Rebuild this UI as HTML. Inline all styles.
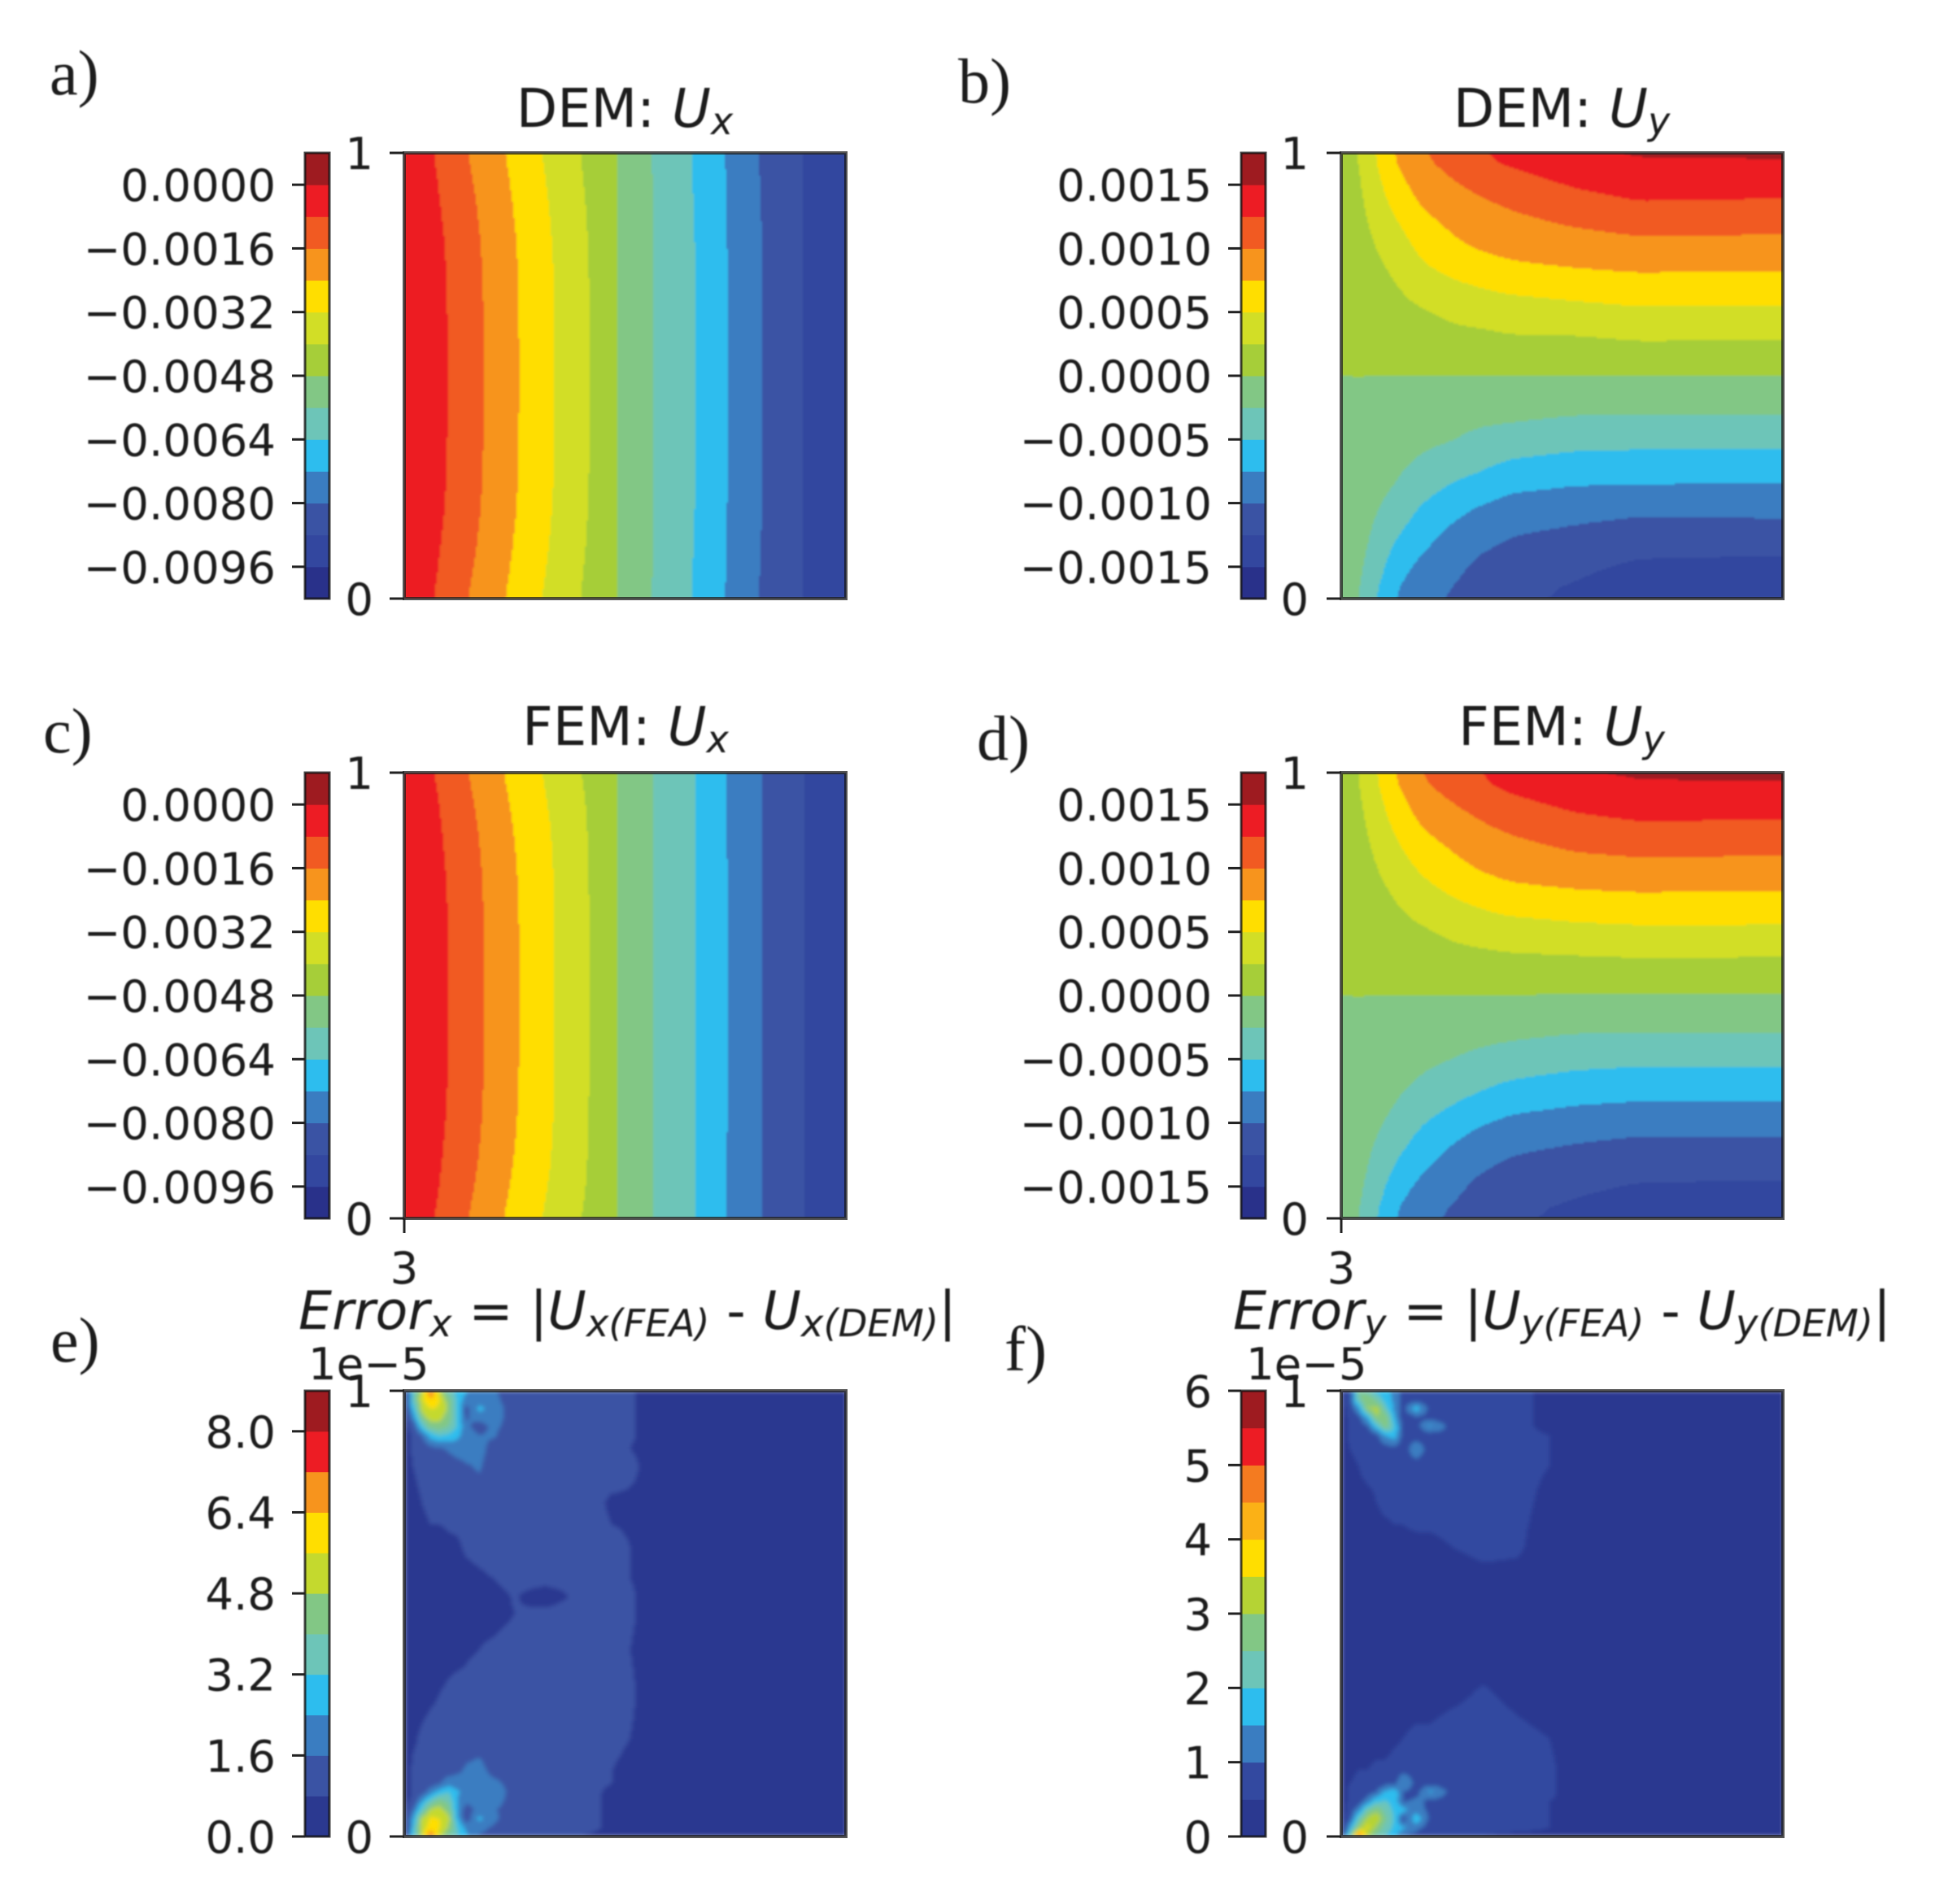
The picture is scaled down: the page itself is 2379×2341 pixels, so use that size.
<!DOCTYPE html>
<html lang="en">
<head>
<meta charset="utf-8">
<title>DEM vs FEM displacement fields</title>
<style>
html,body{margin:0;padding:0;background:#fff;}
svg{display:block;}
.tk{font-family:"DejaVu Sans",sans-serif;font-size:54.5px;fill:#1c1c1c;}
.ti{font-family:"DejaVu Sans",sans-serif;font-size:65.5px;fill:#1c1c1c;}
.te{font-family:"DejaVu Sans",sans-serif;font-size:65px;fill:#1c1c1c;}
.pl{font-family:"Liberation Serif",serif;font-size:78px;fill:#1c1c1c;}
.it{font-style:italic;}
.sb{font-style:italic;font-size:46px;}
.te .sb{font-size:46.5px;}
</style>
</head>
<body>
<svg id="figure" xmlns="http://www.w3.org/2000/svg" width="2379" height="2341" viewBox="0 0 2379 2341">
<defs>
<filter id="soft" x="-2%" y="-2%" width="104%" height="104%"><feGaussianBlur stdDeviation="1.4"/></filter>
<filter id="softErr" x="-2%" y="-2%" width="104%" height="104%"><feGaussianBlur stdDeviation="2.6"/></filter>
<filter id="softText" x="-5%" y="-20%" width="110%" height="140%"><feGaussianBlur stdDeviation="0.7"/></filter>
</defs>
<rect width="2379" height="2341" fill="#fff"/>
<g id="panels"></g>
<g filter="url(#softText)">
<text class="pl" x="61" y="116">a)</text>
<text class="pl" x="1178" y="126">b)</text>
<text class="pl" x="53" y="925">c)</text>
<text class="pl" x="1201" y="934">d)</text>
<text class="pl" x="62" y="1674">e)</text>
<text class="pl" x="1235" y="1685">f)</text>

<text class="ti" x="768" y="156" text-anchor="middle">DEM: <tspan class="it">U</tspan><tspan class="sb" dy="9">x</tspan></text>
<text class="ti" x="1920" y="156" text-anchor="middle">DEM: <tspan class="it">U</tspan><tspan class="sb" dy="9">y</tspan></text>
<text class="ti" x="769" y="916" text-anchor="middle">FEM: <tspan class="it">U</tspan><tspan class="sb" dy="9">x</tspan></text>
<text class="ti" x="1920" y="916" text-anchor="middle">FEM: <tspan class="it">U</tspan><tspan class="sb" dy="9">y</tspan></text>

<text class="te" x="367" y="1634"><tspan class="it">Error</tspan><tspan class="sb" dy="9">x</tspan><tspan dy="-9"> = |</tspan><tspan class="it">U</tspan><tspan class="sb" dy="9">x(FEA)</tspan><tspan dy="-9"> - </tspan><tspan class="it">U</tspan><tspan class="sb" dy="9">x(DEM)</tspan><tspan dy="-9">|</tspan></text>
<text class="te" x="1516" y="1634"><tspan class="it">Error</tspan><tspan class="sb" dy="9">y</tspan><tspan dy="-9"> = |</tspan><tspan class="it">U</tspan><tspan class="sb" dy="9">y(FEA)</tspan><tspan dy="-9"> - </tspan><tspan class="it">U</tspan><tspan class="sb" dy="9">y(DEM)</tspan><tspan dy="-9">|</tspan></text>

<text class="tk" x="379" y="1696">1e−5</text>
<text class="tk" x="1532" y="1696">1e−5</text>
<text class="tk" x="497" y="1578" text-anchor="middle">3</text>
<text class="tk" x="1649" y="1578" text-anchor="middle">3</text>
</g>
</svg>
<script>
/* ---------- colour bands, low to high ---------- */
const palette14 = ['#29318a','#33479f','#3a53a4','#3a7dc1','#2dbdee','#6dc5b8','#82c785','#a6ce39','#d2de26','#ffde00','#f7941d','#f15a22','#ed1c24','#9e1b20'];
const paletteErrX = ['#2b3990','#3a53a4','#3a7dc1','#2dbdee','#6dc5b8','#82c785','#c4d92e','#ffde00','#f7941d','#ed1c24','#9e1b20'];
const paletteErrY = ['#2b3990','#3349a0','#3a7dc1','#2dbdee','#6dc5b8','#82c785','#b5d334','#ffde00','#fbb116','#f47b20','#ed1c24','#9e1b20'];

/* ---------- contour levels ---------- */
const levelsUx = [-104,-96,-88,-80,-72,-64,-56,-48,-40,-32,-24,-16,-8,0,8];      /* 1e-4 */
const levelsUy = [-17.5,-15,-12.5,-10,-7.5,-5,-2.5,0,2.5,5,7.5,10,12.5,15,17.5]; /* 1e-4 */
const levelsErrX = [0,0.8,1.6,2.4,3.2,4,4.8,5.6,6.4,7.2,8,8.8];                  /* 1e-5 */
const levelsErrY = [0,0.5,1,1.5,2,2.5,3,3.5,4,4.5,5,5.5,6];                      /* 1e-5 */

/* ---------- colour-bar ticks ---------- */
const ticksUx = [0,-16,-32,-48,-64,-80,-96];
const tickLabelsUx = ['0.0000','−0.0016','−0.0032','−0.0048','−0.0064','−0.0080','−0.0096'];
const ticksUy = [15,10,5,0,-5,-10,-15];
const tickLabelsUy = ['0.0015','0.0010','0.0005','0.0000','−0.0005','−0.0010','−0.0015'];
const ticksErrX = [8,6.4,4.8,3.2,1.6,0];
const tickLabelsErrX = ['8.0','6.4','4.8','3.2','1.6','0.0'];
const ticksErrY = [6,5,4,3,2,1,0];
const tickLabelsErrY = ['6','5','4','3','2','1','0'];

/* ---------- sample coordinates (fraction of plot, y measured from the top) ---------- */
const uxCols = [0,.05,.1,.18,.26,.34,.42,.48,.56,.66,.73,.81,.9,1];
const uxRows = [0,.06,.12,.2,.3,.5,.7,.8,.88,.94,1];
const uyCols = [0,.04,.08,.12,.18,.25,.31,.38,.53,.67,1];
const uyRows = [0,.05,.1,.15,.2,.25,.3,.35,.4,.45,.5,.55,.6,.65,.7,.75,.8,.85,.9,.95,1];
const errCols = [0,.02,.04,.06,.08,.10,.12,.14,.17,.2,.25,.32,.4,.47,.55,.65,.8,1];
const errRows = [0,.02,.04,.06,.08,.10,.13,.17,.25,.35,.42,.46,.5,.58,.68,.78,.85,.88,.9,.92,.94,.96,.98,1];

/* ---------- field values ---------- */
const demUx = [
[0,-6,-11.6,-19.6,-27,-34.8,-42,-48,-56,-65,-72.5,-81,-88,-94],
[0,-5.4,-10.5,-18.5,-26.1,-34,-41.4,-48,-56,-64.7,-72.4,-80.7,-88,-94],
[0,-4.9,-9.6,-17.6,-25.4,-33.3,-40.9,-48,-56,-64.5,-72.2,-80.5,-88,-94],
[0,-4.4,-8.7,-16.7,-24.6,-32.6,-40.4,-48,-56,-64.2,-72.1,-80.2,-88,-94],
[0,-4.1,-8.2,-16.2,-24.2,-32.1,-40.1,-48,-56,-64,-72,-80,-88,-94],
[0,-4,-8,-16,-24,-32,-40,-48,-56,-64,-72,-80,-88,-94],
[0,-4.1,-8.2,-16.2,-24.2,-32.1,-40.1,-48,-56,-64,-72,-80,-88,-94],
[0,-4.4,-8.7,-16.7,-24.6,-32.6,-40.4,-48,-56,-64.2,-72.1,-80.2,-88,-94],
[0,-4.9,-9.6,-17.6,-25.4,-33.3,-40.9,-48,-56,-64.5,-72.2,-80.5,-88,-94],
[0,-5.4,-10.5,-18.5,-26.1,-34,-41.4,-48,-56,-64.7,-72.4,-80.7,-88,-94],
[0,-6,-11.6,-19.6,-27,-34.8,-42,-48,-56,-65,-72.5,-81,-88,-94]];
const femUx = [
[0,-6,-11.5,-19.5,-27.4,-34.6,-41.8,-48,-56,-64,-72.6,-80,-88,-93],
[0,-5.2,-10.2,-18.4,-26.4,-33.6,-41,-48,-56,-64,-72.4,-80,-88,-93],
[0,-4.7,-9.4,-17.4,-25.4,-32.9,-40.6,-48,-56,-64,-72.2,-80,-88,-93],
[0,-4.3,-8.6,-16.6,-24.6,-32.4,-40.3,-48,-56,-64,-72.1,-80,-88,-93],
[0,-4,-8.1,-16.1,-24.1,-32.1,-40.1,-48,-56,-64,-72,-80,-88,-93],
[0,-4,-8,-16,-24,-32,-40,-48,-56,-64,-72,-80,-88,-93],
[0,-4,-8.1,-16.1,-24.1,-32.1,-40.1,-48,-56,-64,-72,-80,-88,-93],
[0,-4.3,-8.6,-16.6,-24.6,-32.4,-40.3,-48,-56,-64,-72.1,-80,-88,-93],
[0,-4.7,-9.4,-17.4,-25.4,-32.9,-40.6,-48,-56,-64,-72.2,-80,-88,-93],
[0,-5.2,-10.2,-18.4,-26.4,-33.6,-41,-48,-56,-64,-72.4,-80,-88,-93],
[0,-6,-11.5,-19.5,-27.4,-34.6,-41.8,-48,-56,-64,-72.6,-80,-88,-93]];
const demUy = [
[.8,2.6,5.3,7.8,10,11,12.5,13.6,15,15.5,15.6],
[.7,2.3,4.6,6.8,9,10.2,11.1,11.9,13.4,14,14],
[.6,2,4,5.8,8,9.1,9.9,10.6,11.9,12.8,12.6],
[.5,1.7,3.4,4.8,6.9,8.1,8.9,9.5,10.5,11.1,11],
[.4,1.4,2.7,3.8,5.8,7.2,8,8.4,9.1,9.6,9.5],
[.4,1.2,2.2,2.9,4.8,5.9,6.7,7.3,7.8,8.1,8],
[.3,.9,1.8,2.3,3.5,4.5,5,5.6,6.1,6.5,6.4],
[.2,.7,1.4,1.8,2.4,3,3.6,3.9,4.4,4.8,4.7],
[.2,.5,1,1.2,1.7,2.2,2.3,2.7,2.8,3.2,3.1],
[.1,.3,.5,.6,.8,1,1.1,1.3,1.3,1.6,1.6],
[0,0,0,0,0,0,0,0,0,0,0],
[-.1,-.2,-.4,-.5,-.7,-.9,-1.1,-1.3,-1.4,-1.4,-1.4],
[-.2,-.4,-.8,-1,-1.4,-1.7,-2.1,-2.3,-2.8,-2.9,-2.9],
[-.2,-.6,-1.2,-1.5,-2.1,-2.5,-3.3,-3.8,-4.4,-4.5,-4.6],
[-.3,-.8,-1.6,-2,-2.9,-3.9,-4.5,-5.4,-6,-6.1,-6.2],
[-.4,-1,-2,-2.5,-4,-5.3,-6,-7.1,-7.6,-7.7,-7.8],
[-.4,-1.2,-2.4,-3.3,-5.3,-6.7,-7.8,-8.5,-9.1,-9.5,-9.4],
[-.5,-1.5,-3,-4.5,-6.4,-8,-8.9,-9.8,-10.4,-11,-10.9],
[-.6,-1.8,-3.6,-5.6,-7.5,-8.8,-10,-10.6,-11.4,-12.2,-12.4],
[-.7,-2.1,-4.3,-6.6,-8.6,-9.6,-10.8,-11.3,-12.3,-13.5,-13.8],
[-.8,-2.5,-5.2,-7.6,-9.8,-10.3,-11.5,-12,-13.2,-14.5,-15]];
const femUy = [
[.8,2.5,5,7.7,10.2,11.6,12.6,14,15.2,15.5,15.7],
[.7,2.2,4.4,6.6,9.1,10.4,11.4,12.4,13.7,14.2,14.1],
[.6,1.9,3.8,5.7,8,9.2,10.1,11,12.2,12.8,12.7],
[.5,1.6,3.2,4.8,6.9,8.1,9,9.7,10.8,11.2,11.1],
[.4,1.3,2.6,3.8,5.7,7,8,8.6,9.4,9.7,9.6],
[.4,1.1,2.1,2.9,4.5,5.8,6.7,7.4,7.9,8.1,8],
[.3,.9,1.7,2.3,3.3,4.4,5.1,5.8,6.2,6.5,6.4],
[.2,.7,1.3,1.8,2.3,3,3.6,4,4.5,4.7,4.7],
[.2,.5,.9,1.2,1.6,2.1,2.3,2.6,2.8,3,2.9],
[.1,.3,.5,.6,.7,1,1.1,1.2,1.3,1.4,1.4],
[0,0,0,0,0,0,0,0,-.1,-.1,-.1],
[-.1,-.2,-.4,-.5,-.7,-.9,-1.1,-1.3,-1.5,-1.5,-1.5],
[-.2,-.4,-.8,-1,-1.4,-1.8,-2.1,-2.4,-2.9,-3,-3],
[-.2,-.6,-1.1,-1.5,-2.1,-2.6,-3.2,-3.8,-4.4,-4.7,-4.7],
[-.3,-.8,-1.5,-2,-2.8,-3.8,-4.5,-5.3,-6.1,-6.3,-6.3],
[-.4,-1,-1.9,-2.5,-3.9,-5.1,-6,-7,-7.6,-7.9,-8],
[-.4,-1.2,-2.3,-3.2,-5.2,-6.6,-7.7,-8.4,-9.1,-9.5,-9.5],
[-.5,-1.5,-2.9,-4.4,-6.3,-7.9,-8.9,-9.8,-10.5,-11,-11],
[-.6,-1.8,-3.5,-5.5,-7.5,-8.9,-10,-10.7,-11.5,-12,-12.1],
[-.7,-2.1,-4.2,-6.6,-8.6,-9.7,-10.8,-11.4,-12.4,-13.2,-13.5],
[-.8,-2.5,-5.1,-7.6,-9.8,-10.4,-11.5,-12.2,-13.4,-14.4,-15]];
const errX = [
[.3,3.2,5.2,7.4,5,3.5,3,2.5,1.9,1.7,1.2,1.1,1,1,.7,.5,.5,.4],
[.4,3.4,5.4,6.4,5.6,4.4,3,2,1.9,1.8,1.2,1.1,1.1,1,.7,.6,.5,.4],
[.5,2.8,5.1,5.6,5.5,4.6,3,1.3,2.7,1.9,1.3,1.1,1.1,1,.7,.6,.5,.4],
[.5,2,4.4,5.3,5.1,4.4,3,1.5,1.9,1.9,1.3,1.1,1.1,1,.7,.6,.5,.4],
[.5,1.2,3,4.4,4.4,4,3.1,1.8,1.2,1.8,1.2,1.1,1.1,1,.7,.6,.5,.4],
[.5,.9,1.6,2.8,3.3,3,2.6,2,1.6,1.7,1.1,1.1,1.1,1,.7,.6,.5,.4],
[.5,.9,1.1,1.3,1.5,1.7,1.9,2,1.9,1.3,1.1,1.1,1.1,.9,.7,.6,.5,.4],
[.5,.8,1,1,1.1,1.2,1.3,1.5,1.7,1.1,1.1,1.1,1.1,1.1,.7,.6,.5,.4],
[.4,.6,.8,1,1,1,1.1,1.1,1.1,1.1,1.1,1.1,1.1,.7,.75,.5,.5,.4],
[.4,.5,.5,.6,.6,.7,.7,.9,1,1.1,1.1,1.1,1,.9,.7,.6,.5,.4],
[.4,.5,.5,.5,.5,.6,.6,.6,.7,.8,1,1.1,1,.9,.7,.6,.5,.4],
[.4,.5,.5,.5,.5,.5,.5,.5,.6,.6,.85,.45,1,1,.7,.6,.5,.4],
[.4,.5,.5,.5,.5,.5,.5,.5,.6,.6,.8,1,1,1,.7,.6,.5,.4],
[.4,.5,.5,.5,.5,.6,.6,.7,.8,.9,1,1.1,1.1,.9,.7,.6,.5,.4],
[.4,.5,.6,.7,.8,.9,1,1,1.1,1.1,1.1,1.1,1.1,1,.7,.6,.5,.4],
[.4,.7,.9,1,1,1.1,1.1,1.1,1.1,1.1,1.1,1.1,1.1,.9,.7,.5,.5,.4],
[.5,.9,1,1,1.1,1.2,1.4,1.7,1.9,1.3,1.1,1.1,1,.8,.6,.5,.5,.4],
[.5,.9,1,1.2,1.5,2,2,1.9,1.9,1.8,1.3,1.1,1,.8,.6,.5,.5,.4],
[.5,.9,1.2,2,2.8,3.2,2.5,2,1.9,1.9,1.4,1.1,1,.7,.6,.5,.5,.4],
[.5,1,2.4,3.5,4.2,3.8,2.4,1.8,1.8,1.9,1.3,1,1,.7,.5,.5,.5,.4],
[.5,1.6,3.4,5,5.2,4.4,2.4,1.2,1.9,1.7,1.2,1,1,.7,.5,.5,.5,.4],
[.5,2.4,5,5.7,5.6,5,2.6,1.1,2.6,1.8,1.1,1,1,.7,.6,.6,.5,.4],
[.4,2.8,5.2,6,5.6,4.8,3.2,2.2,1.9,1.5,1.1,1,1,.7,.6,.6,.5,.4],
[.3,3,5.2,7.6,5,4,3.3,2.6,1.5,1.2,.9,.8,.8,.6,.5,.5,.4,.4]];
const errY = [
[.2,.8,2.6,2.2,1.8,1.7,1.3,.8,.7,.7,.7,.7,.6,.4,.3,.3,.3,.3],
[.3,.9,2.4,3,2.4,1.8,1.4,.8,.8,.7,.7,.7,.6,.4,.3,.3,.3,.3],
[.3,.7,1.4,3,3.2,2.2,1.4,.8,1.8,.8,.7,.7,.6,.4,.3,.3,.3,.3],
[.3,.6,.9,1.6,3,2.8,1.6,.7,.9,.8,.7,.7,.6,.4,.3,.3,.3,.3],
[.3,.6,.7,1,1.8,2.8,2,.7,.8,1.6,.8,.7,.6,.4,.3,.3,.3,.3],
[.3,.6,.7,.7,.9,1.5,1.8,.8,.7,.7,.8,.7,.6,.5,.3,.3,.3,.3],
[.3,.5,.6,.7,.7,.8,.8,.7,1.4,.7,.8,.7,.6,.5,.3,.3,.3,.3],
[.3,.4,.5,.6,.6,.7,.7,.7,.7,.7,.8,.7,.6,.5,.3,.3,.3,.3],
[.3,.3,.4,.4,.5,.6,.6,.6,.7,.7,.7,.7,.6,.4,.3,.3,.3,.3],
[.3,.3,.3,.3,.3,.3,.4,.4,.4,.4,.5,.6,.55,.3,.3,.3,.3,.3],
[.3,.3,.3,.3,.3,.3,.3,.3,.3,.3,.3,.4,.4,.3,.3,.3,.3,.3],
[.3,.3,.3,.3,.3,.3,.3,.3,.3,.3,.3,.3,.3,.3,.3,.3,.3,.3],
[.3,.3,.3,.3,.3,.3,.3,.3,.3,.3,.3,.3,.3,.3,.3,.3,.3,.3],
[.3,.3,.3,.3,.3,.3,.3,.3,.3,.3,.3,.3,.3,.3,.3,.3,.3,.3],
[.3,.3,.3,.3,.3,.3,.3,.3,.3,.3,.4,.55,.4,.3,.3,.3,.3,.3],
[.3,.3,.3,.3,.3,.3,.4,.5,.6,.6,.7,.7,.6,.5,.3,.3,.3,.3],
[.3,.4,.5,.5,.6,.6,.7,.8,.8,.7,.7,.8,.7,.55,.3,.3,.3,.3],
[.3,.5,.6,.7,.7,.8,.8,1.5,.8,.8,.8,.7,.7,.55,.3,.3,.3,.3],
[.3,.6,.7,.8,1,1.6,1.8,1,.8,1.6,.8,.7,.7,.55,.3,.3,.3,.3],
[.3,.6,.8,1.2,1.9,2,1.8,.9,1.1,.9,.8,.7,.7,.5,.45,.45,.45,.4],
[.3,.7,1.3,2.4,2.9,2.3,1.9,1.7,1.2,.9,.8,.7,.6,.5,.45,.45,.45,.45],
[.3,.9,2.2,3.2,3.4,2.6,1.9,.7,1.9,.9,.8,.7,.6,.5,.45,.45,.45,.45],
[.3,1.5,3,3.6,2.9,2.3,1.9,1.6,1.2,.7,.7,.6,.6,.5,.45,.45,.45,.45],
[.2,2.5,5.2,3,2.4,2,1.6,1,.7,.6,.5,.5,.4,.4,.4,.4,.4,.4]];

/* ---------- panel wiring ---------- */
const panels = [
 {id:'dem-ux',left:497,top:188,cb:375,lab:339,axlab:459,field:demUx,cols:uxCols,rows:uxRows,levels:levelsUx,colors:palette14,ticks:ticksUx,labels:tickLabelsUx,xtick:false,smooth:5,blur:'soft'},
 {id:'dem-uy',left:1649,top:188,cb:1526,lab:1490,axlab:1609,field:demUy,cols:uyCols,rows:uyRows,levels:levelsUy,colors:palette14,ticks:ticksUy,labels:tickLabelsUy,xtick:false,smooth:6,blur:'soft'},
 {id:'fem-ux',left:497,top:950,cb:375,lab:339,axlab:459,field:femUx,cols:uxCols,rows:uxRows,levels:levelsUx,colors:palette14,ticks:ticksUx,labels:tickLabelsUx,xtick:true,smooth:5,blur:'soft'},
 {id:'fem-uy',left:1649,top:950,cb:1526,lab:1490,axlab:1609,field:femUy,cols:uyCols,rows:uyRows,levels:levelsUy,colors:palette14,ticks:ticksUy,labels:tickLabelsUy,xtick:true,smooth:6,blur:'soft'},
 {id:'error-x',left:497,top:1710,cb:375,lab:339,axlab:459,field:errX,cols:errCols,rows:errRows,levels:levelsErrX,colors:paletteErrX,ticks:ticksErrX,labels:tickLabelsErrX,xtick:false,smooth:0,blur:'softErr'},
 {id:'error-y',left:1649,top:1710,cb:1526,lab:1490,axlab:1609,field:errY,cols:errCols,rows:errRows,levels:levelsErrY,colors:paletteErrY,ticks:ticksErrY,labels:tickLabelsErrY,xtick:false,smooth:0,blur:'softErr'}
];
const PLOT_W = 543, PLOT_H = 548, CB_W = 30, CELL = 2, NS = 'http://www.w3.org/2000/svg';

function make(tag, parent, attrs){
  const el = document.createElementNS(NS, tag);
  for (const k in attrs) el.setAttribute(k, attrs[k]);
  parent.appendChild(el);
  return el;
}
function locate(axis, v){
  let i = 0;
  while (i < axis.length - 2 && v > axis[i + 1]) i++;
  return [i, (v - axis[i]) / (axis[i + 1] - axis[i])];
}
function sample(p, fx, fy){
  const [i, s] = locate(p.cols, fx), [j, t] = locate(p.rows, fy), f = p.field;
  return (f[j][i] * (1 - s) + f[j][i + 1] * s) * (1 - t) + (f[j + 1][i] * (1 - s) + f[j + 1][i + 1] * s) * t;
}
/* moving-average pass that rounds the kinks of the coarse sample grid */
function smoothGrid(grid, r){
  if (!r) return grid;
  const ny = grid.length, nx = grid[0].length;
  const a = grid.map(line => {
    const out = new Float64Array(nx);
    for (let c = 0; c < nx; c++){
      let sum = 0, n = 0;
      for (let k = Math.max(0, c - r); k <= Math.min(nx - 1, c + r); k++){ sum += line[k]; n++; }
      out[c] = sum / n;
    }
    return out;
  });
  const b = [];
  for (let y = 0; y < ny; y++){
    const out = new Float64Array(nx);
    const lo = Math.max(0, y - r), hi = Math.min(ny - 1, y + r);
    for (let c = 0; c < nx; c++){
      let sum = 0;
      for (let k = lo; k <= hi; k++) sum += a[k][c];
      out[c] = sum / (hi - lo + 1);
    }
    b.push(out);
  }
  return b;
}
function drawPanel(p, root){
  const lo = p.levels[0], hi = p.levels[p.levels.length - 1];
  const yCb = v => p.top + (hi - v) / (hi - lo) * PLOT_H;
  const g = make('g', root, {});
  
  

  /* contour field */
  const clipId = 'clip-' + p.id;
  const defs = make('clipPath', g, {id: clipId});
  make('rect', defs, {x: p.left, y: p.top, width: PLOT_W, height: PLOT_H});
  const clip = make('g', g, {'clip-path': 'url(#' + clipId + ')'});
  
  
  const blur = make('g', clip, {filter: 'url(#' + p.blur + ')'});
  const nx = Math.ceil(PLOT_W / CELL), ny = Math.ceil(PLOT_H / CELL);
  let grid = [];
  for (let r = 0; r < ny; r++){
    const line = new Float64Array(nx);
    for (let c = 0; c < nx; c++) line[c] = sample(p, (c + .5) / nx, (r + .5) / ny);
    grid.push(line);
  }
  grid = smoothGrid(grid, p.smooth);
  p.colors.forEach((color, k) => {
    const floor = p.levels[k];
    let d = '';
    for (let r = 0; r < ny; r++){
      let c = 0;
      while (c < nx){
        if (k === 0 || grid[r][c] >= floor){
          const s = c;
          while (c < nx && (k === 0 || grid[r][c] >= floor)) c++;
          d += 'M' + (p.left + s * CELL) + ' ' + (p.top + r * CELL) + 'h' + ((c - s) * CELL) + 'v' + CELL + 'h' + (-(c - s) * CELL) + 'z';
        } else c++;
      }
    }
    if (d){
      const band = make('path', blur, {d: d, fill: color, 'shape-rendering': 'crispEdges'});
      
      
    }
  });

  /* plot frame */
  const frame = make('rect', g, {x: p.left, y: p.top, width: PLOT_W, height: PLOT_H, fill: 'none', stroke: '#111', 'stroke-width': 4, 'stroke-opacity': .72});
  
  

  /* plot y axis ticks: 1 and 0 */
  [[p.top, '1'], [p.top + PLOT_H, '0']].forEach(([y, txt]) => {
    const tick = make('line', g, {x1: p.left - 18, x2: p.left, y1: y, y2: y, stroke: '#222', 'stroke-width': 3});
    
    
    const lab = make('text', g, {x: p.axlab, y: y + 20, 'text-anchor': 'end', class: 'tk', filter: 'url(#softText)'});
    lab.textContent = txt;
    
    
  });
  if (p.xtick){
    const xt = make('line', g, {x1: p.left, x2: p.left, y1: p.top + PLOT_H, y2: p.top + PLOT_H + 18, stroke: '#222', 'stroke-width': 3});
    
    
  }

  /* colour bar */
  const cb = make('g', g, {});
  
  
  p.colors.forEach((color, k) => {
    const yTop = yCb(p.levels[k + 1]), yBot = yCb(p.levels[k]);
    const seg = make('rect', cb, {x: p.cb, y: yTop, width: CB_W, height: yBot - yTop + .5, fill: color});
    
    
  });
  const cbFrame = make('rect', cb, {x: p.cb, y: p.top, width: CB_W, height: PLOT_H, fill: 'none', stroke: '#111', 'stroke-width': 3, 'stroke-opacity': .78});
  
  
  p.ticks.forEach((v, i) => {
    const y = yCb(v);
    const tick = make('line', cb, {x1: p.cb - 16, x2: p.cb, y1: y, y2: y, stroke: '#222', 'stroke-width': 3});
    
    
    const lab = make('text', cb, {x: p.lab, y: y + 20, 'text-anchor': 'end', class: 'tk', filter: 'url(#softText)'});
    lab.textContent = p.labels[i];
    
    
  });
}
const rootGroup = document.getElementById('panels');
panels.forEach(p => drawPanel(p, rootGroup));
</script>
</body>
</html>
